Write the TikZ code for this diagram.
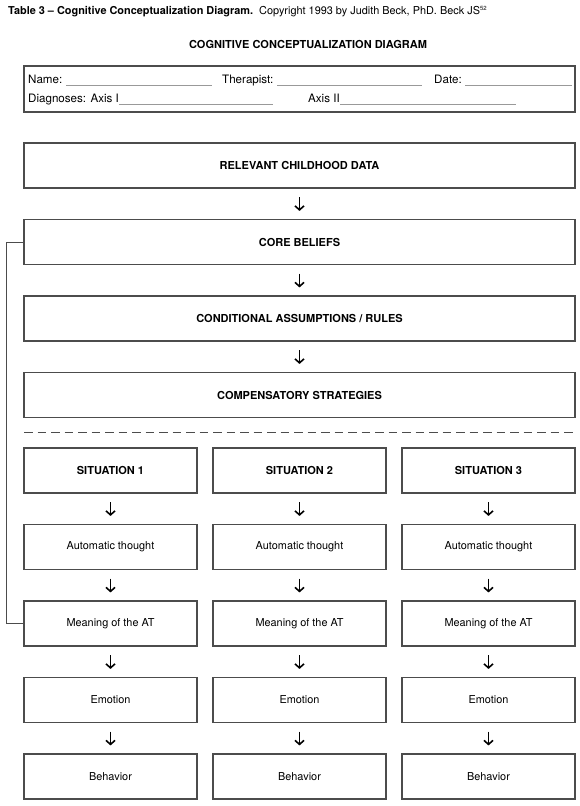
\documentclass[tikz,border=0pt]{standalone}
\usepackage{fontspec}
\setmainfont{TeX Gyre Heros}
\usetikzlibrary{arrows.meta}
\definecolor{boxgray}{gray}{0.3}
\definecolor{ulgray}{gray}{0.6}
\tikzset{
  bigbox/.style={draw=boxgray, line width=1.1pt, minimum width=551pt, minimum height=45pt, inner sep=0pt, font=\fontsize{11}{13}\selectfont\bfseries},
  colbox/.style={draw=boxgray, line width=1.1pt, minimum width=173pt, minimum height=45pt, inner sep=0pt, font=\fontsize{10.9}{13}\selectfont},
  sitbox/.style={colbox, font=\fontsize{11}{13}\selectfont\bfseries},
  flowarrow/.style={-{Straight Barb[length=4pt,width=9pt]}, line width=1.6pt, black, shorten <=8.5pt, shorten >=8pt},
  formtext/.style={anchor=base west, inner sep=0pt, font=\fontsize{11.6}{13}\selectfont},
  uline/.style={draw=ulgray, line width=0.8pt},
  linkline/.style={draw=boxgray, line width=1pt},
  sepline/.style={draw=boxgray, line width=0.9pt, dash pattern=on 8.5pt off 5pt}
}
\begin{document}
\begin{tikzpicture}[x=1pt,y=-1pt]
\useasboundingbox (0,0) rectangle (580,806);
% titles
\node[anchor=base west, inner sep=0pt, font=\fontsize{10.9}{12}\selectfont] (title) at (8,14)
  {\textbf{Table 3 – Cognitive Conceptualization Diagram.}\ \ Copyright 1993 by Judith Beck, PhD. Beck JS\textsuperscript{\fontsize{6}{6}\selectfont 52}};
\node[inner sep=0pt, font=\fontsize{11}{13}\selectfont\bfseries] (head) at (308,44) {COGNITIVE CONCEPTUALIZATION DIAGRAM};
% form box
\node[draw=boxgray, line width=1.1pt, minimum width=551pt, minimum height=46pt, inner sep=0pt] (form) at (299.5,89) {};
\node[formtext] (nm) at (28,83) {Name:};
\draw[uline] (66,85) coordinate (n1) -- (212,85) coordinate (n2);
\node[formtext] (th) at (222,83) {Therapist:};
\draw[uline] (277,85) coordinate (t1) -- (422,85) coordinate (t2);
\node[formtext] (dt) at (434,83) {Date:};
\draw[uline] (465,85) coordinate (d1) -- (572,85) coordinate (d2);
\node[formtext] (dg) at (28,102) {Diagnoses: Axis I};
\draw[uline] (dg.base east) ++(0,2) coordinate (a1) -- (273,104) coordinate (a2);
\node[formtext] (ax) at (308,102) {Axis II};
\draw[uline] (ax.base east) ++(0,2) coordinate (b1) -- (516,104) coordinate (b2);
% main boxes
\node[bigbox] (rcd) at (299.5,165.5) {RELEVANT CHILDHOOD DATA};
\node[bigbox] (core) at (299.5,242) {CORE BELIEFS};
\node[bigbox] (cond) at (299.5,318.5) {CONDITIONAL ASSUMPTIONS / RULES};
\node[bigbox] (comp) at (299.5,395) {COMPENSATORY STRATEGIES};
\draw[flowarrow] (rcd) -- (core);
\draw[flowarrow] (core) -- (cond);
\draw[flowarrow] (cond) -- (comp);
% separator
\coordinate (sepL) at (24,432);
\coordinate (sepR) at (576,432);
\draw[sepline] (sepL) -- (sepR);
% columns
\foreach \i/\x in {1/110.5, 2/299.5, 3/488.5}{
  \node[sitbox] (s\i) at (\x,470.5) {SITUATION \i};
  \node[colbox] (at\i) at (\x,547) {Automatic thought};
  \node[colbox] (m\i) at (\x,623.5) {Meaning of the AT};
  \node[colbox] (e\i) at (\x,700) {Emotion};
  \node[colbox] (b\i) at (\x,776.5) {Behavior};
  \draw[flowarrow] (s\i) -- (at\i);
  \draw[flowarrow] (at\i) -- (m\i);
  \draw[flowarrow] (m\i) -- (e\i);
  \draw[flowarrow] (e\i) -- (b\i);
}
% link from core beliefs to meaning
\coordinate (lk) at (6,242);
\draw[linkline] (core.west) -- (lk) |- (m1.west);
\end{tikzpicture}
\end{document}
